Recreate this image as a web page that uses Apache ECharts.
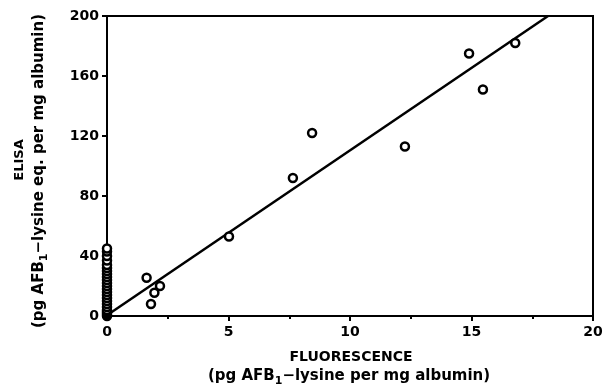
<!DOCTYPE html>
<html>
<head>
<meta charset="utf-8">
<script src="https://cdn.jsdelivr.net/npm/echarts@6/dist/echarts.min.js"></script>
<style>
html, body { margin: 0; padding: 0; background: #fff; }
#chart { width: 613px; height: 389px; }
</style>
</head>
<body>
<div id="chart"></div>
<script>
// samples: fluorescence (x) vs ELISA (y)
var fluorescence = [0, 0, 0, 0, 0, 0, 0, 0, 0, 0, 0, 0, 0, 0, 0, 0, 0, 0, 0, 0, 0, 0, 0, 0,
  1.63, 2.18, 1.95, 1.81, 5.02, 7.65, 8.44, 12.26, 14.9, 15.47, 16.8];
var elisa = [0, 1, 2, 3, 4, 6, 8, 10, 12, 14, 16, 18, 20, 22, 24, 26, 28, 30, 32, 34, 37, 40, 43, 45,
  25.5, 20, 15.5, 8, 53, 92, 122, 113, 175, 151, 182];
// regression line end points
var fitX = [0, 18.15];
var fitY = [0.5, 200];
var xTicks = [0, 5, 10, 15, 20];
var yTicks = [0, 40, 80, 120, 160, 200];

var pts = fluorescence.map(function (x, i) { return [x, elisa[i]]; });
var fit = fitX.map(function (x, i) { return [x, fitY[i]]; });

var font = 'DejaVu Sans';
var subRich = {
  a: { font: 'bold 15px ' + font, fill: '#000' },
  s: { font: 'bold 11px ' + font, fill: '#000', verticalAlign: 'bottom', padding: [11, 0, 0, 0] }
};
var chart = echarts.init(document.getElementById('chart'));
chart.setOption({
  animation: false,
  grid: { left: 107, right: 20, top: 16, bottom: 73, show: true, borderColor: '#000', borderWidth: 2 },
  xAxis: {
    type: 'value', min: 0, max: 20, interval: 5,
    axisLine: { lineStyle: { color: '#000', width: 2 } },
    axisTick: { length: 5, lineStyle: { color: '#000', width: 2 } },
    minorTick: { show: true, splitNumber: 2, length: 3, lineStyle: { color: '#000', width: 2 } },
    splitLine: { show: false },
    axisLabel: { color: '#000', fontFamily: font, fontWeight: 'bold', fontSize: 14, margin: 9,
      formatter: function (v) { return xTicks.indexOf(v) >= 0 ? String(v) : ''; } }
  },
  yAxis: {
    type: 'value', min: 0, max: 200, interval: 40,
    axisLine: { lineStyle: { color: '#000', width: 2 } },
    axisTick: { length: 5, lineStyle: { color: '#000', width: 2 } },
    splitLine: { show: false },
    axisLabel: { color: '#000', fontFamily: font, fontWeight: 'bold', fontSize: 14, margin: 8,
      formatter: function (v) { return yTicks.indexOf(v) >= 0 ? String(v) : ''; } }
  },
  series: [
    {
      type: 'line', data: fit, showSymbol: false, symbol: 'none',
      lineStyle: { color: '#000', width: 2.5 }, z: 2
    },
    {
      type: 'scatter', data: pts, symbol: 'circle', symbolSize: 8,
      itemStyle: { color: '#fff', borderColor: '#000', borderWidth: 2.5, opacity: 1 }, z: 3
    }
  ],
  graphic: [
    { type: 'text', x: 351, y: 357, style: { text: 'FLUORESCENCE', font: 'bold 14px ' + font,
        fill: '#000', align: 'center', verticalAlign: 'middle' } },
    { type: 'text', x: 349, y: 376, style: {
        text: '{a|(pg AFB}{s|1}{a|\u2212lysine per mg albumin)}',
        align: 'center', verticalAlign: 'middle', rich: subRich } },
    { type: 'text', x: 20, y: 160, rotation: Math.PI / 2, style: { text: 'ELISA', font: 'bold 13px ' + font,
        fill: '#000', align: 'center', verticalAlign: 'middle' } },
    { type: 'text', x: 39, y: 171, rotation: Math.PI / 2, style: {
        text: '{a|(pg AFB}{s|1}{a|\u2212lysine eq. per mg albumin)}',
        align: 'center', verticalAlign: 'middle', rich: subRich } }
  ]
});
</script>
</body>
</html>
